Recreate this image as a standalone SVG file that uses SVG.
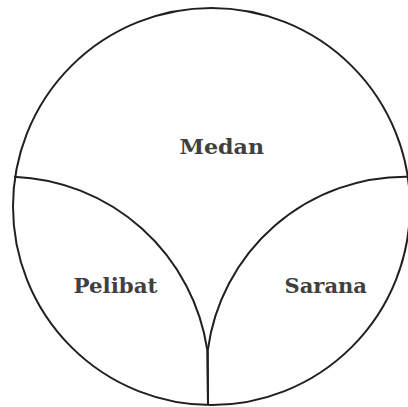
<svg xmlns="http://www.w3.org/2000/svg" width="408" height="407" viewBox="0 0 408 407">
<style>
.ln{fill:none;stroke:#231f20;stroke-width:2}
.lb{font-family:"DejaVu Serif","Liberation Serif",serif;font-weight:bold;font-size:20.5px;fill:#404040}
</style>
<rect width="408" height="407" fill="#ffffff"/>
<g id="shapes">
<circle class="ln" cx="211.5" cy="206.5" r="198.5"/>
<path class="ln" d="M14,176.7 A203.6,203.6 0 0,1 207.3,350 L208,405"/>
<path class="ln" d="M208,405 L207.8,350 A199.8,199.8 0 0,1 407.7,176.7"/>
</g>
<g id="medan"><text class="lb" x="179.5" y="154" textLength="84.5" lengthAdjust="spacingAndGlyphs">Medan</text></g>
<g id="pelibat"><text class="lb" x="73.5" y="293" textLength="84" lengthAdjust="spacingAndGlyphs">Pelibat</text></g>
<g id="sarana"><text class="lb" x="284.5" y="293" textLength="82.5" lengthAdjust="spacingAndGlyphs">Sarana</text></g>
</svg>
